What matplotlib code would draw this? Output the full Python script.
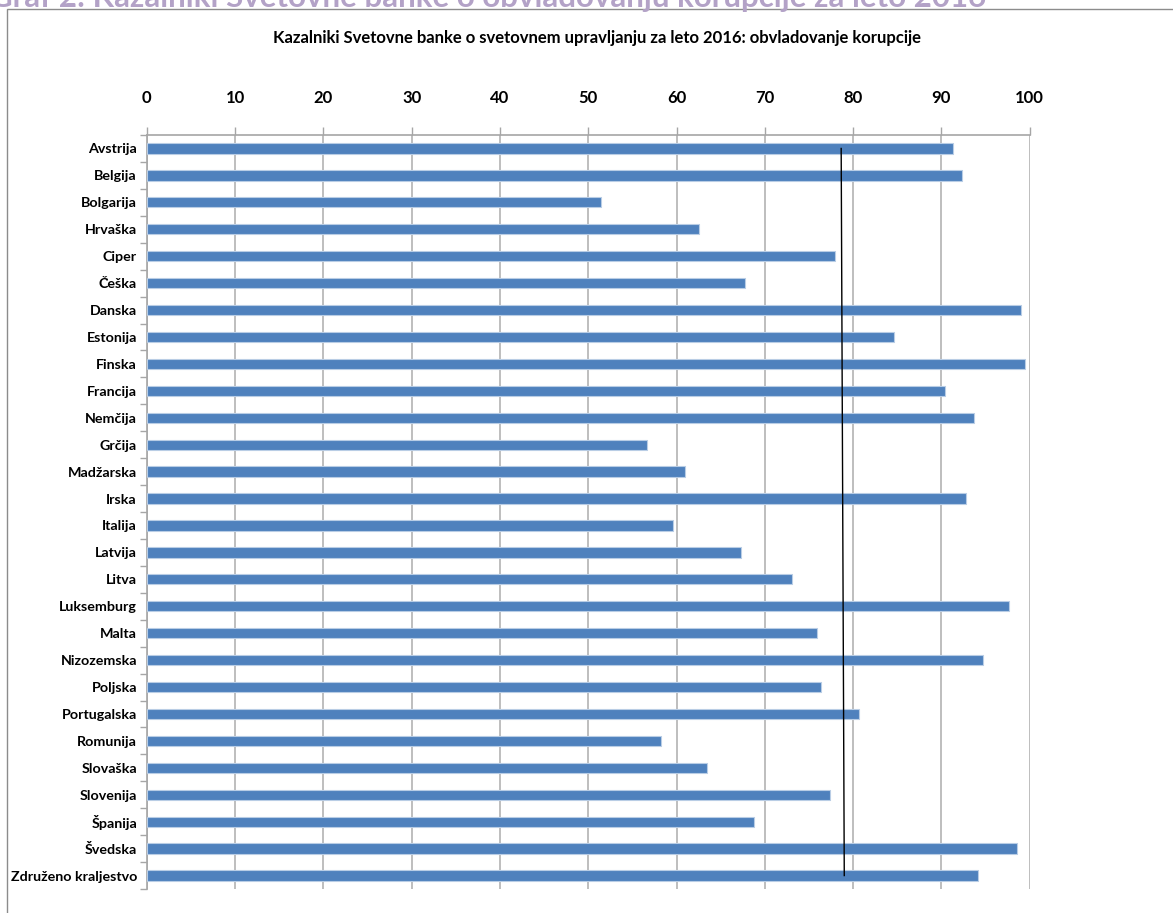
import matplotlib
matplotlib.use("Agg")
import matplotlib.pyplot as plt
from matplotlib.patches import Rectangle
from matplotlib.ticker import FixedLocator

plt.rcParams['font.family'] = ['Lato', 'DejaVu Sans']

countries = [
    "Avstrija", "Belgija", "Bolgarija", "Hrvaška", "Ciper", "Češka", "Danska",
    "Estonija", "Finska", "Francija", "Nemčija", "Grčija", "Madžarska", "Irska",
    "Italija", "Latvija", "Litva", "Luksemburg", "Malta", "Nizozemska",
    "Poljska", "Portugalska", "Romunija", "Slovaška", "Slovenija", "Španija",
    "Švedska", "Združeno kraljestvo",
]
scores = [
    91.3, 92.3, 51.4, 62.5, 77.9, 67.8, 99.0,
    84.6, 99.5, 90.4, 93.7, 56.7, 61.0, 92.8,
    59.6, 67.3, 73.1, 97.6, 75.9, 94.7,
    76.4, 80.7, 58.2, 63.5, 77.4, 68.8,
    98.6, 94.2,
]
# EU average reference line (start and end value)
eu_average = [78.65, 79.0]
x_ticks = [0, 10, 20, 30, 40, 50, 60, 70, 80, 90, 100]

W, H = 1173, 913
fig = plt.figure(figsize=(W / 100, H / 100), dpi=100)
fig.patch.set_facecolor("white")

# outer chart frame
fig.patches.append(Rectangle((7 / W, -0.05), 1.2, 1 - 9 / H + 0.05,
                             transform=fig.transFigure, fill=False,
                             edgecolor="#8C8C8C", linewidth=1.0, zorder=0))

# caption above the frame, partly cut by the image edge
fig.text(-10 / W, 1 - 7 / H, "Graf 2: Kazalniki Svetovne banke o obvladovanju korupcije za leto 2016",
         ha="left", va="baseline", fontsize=22.5, fontweight="bold", color="#B3A2C7")

fig.text(597 / W, 1 - 38 / H,
         "Kazalniki Svetovne banke o svetovnem upravljanju za leto 2016: obvladovanje korupcije",
         ha="center", va="center", fontsize=12, fontweight="bold", color="black")

left, right, top, bottom = 146.7, 1029.7, 135, 889
ax = fig.add_axes([left / W, 1 - bottom / H, (right - left) / W, (bottom - top) / H])

ypos = list(range(len(countries)))
ax.barh(ypos, scores, height=0.38, color="#4F81BD", edgecolor="#B9CDE5",
        linewidth=0.8, zorder=3)
ax.plot(eu_average, [ypos[0], ypos[-1]], color="black", linewidth=1.0, zorder=4)

ax.set_xlim(0, 100)
ax.set_ylim(len(countries) - 0.5, -0.5)

ax.xaxis.tick_top()
ax.set_xticks(x_ticks)
ax.set_xticklabels([str(t) for t in x_ticks], fontsize=12, fontweight="bold")
ax.tick_params(axis="x", which="major", direction="out", length=6, width=1,
               color="#A6A6A6", pad=15)
ax.grid(axis="x", color="#B3B3B3", linewidth=1.2, zorder=0)

ax.set_yticks(ypos)
ax.set_yticklabels(countries, fontsize=10.3, fontweight="bold")
ax.yaxis.set_minor_locator(FixedLocator([i - 0.5 for i in range(len(countries) + 1)]))
ax.tick_params(axis="y", which="major", length=0, pad=7)
ax.tick_params(axis="y", which="minor", direction="out", length=5, width=1,
               color="#A6A6A6")

for side in ["left", "top"]:
    ax.spines[side].set_color("#A6A6A6")
    ax.spines[side].set_linewidth(1.2)
ax.spines["right"].set_visible(False)
ax.spines["bottom"].set_visible(False)

fig.savefig("out.png", dpi=100, facecolor="white")
